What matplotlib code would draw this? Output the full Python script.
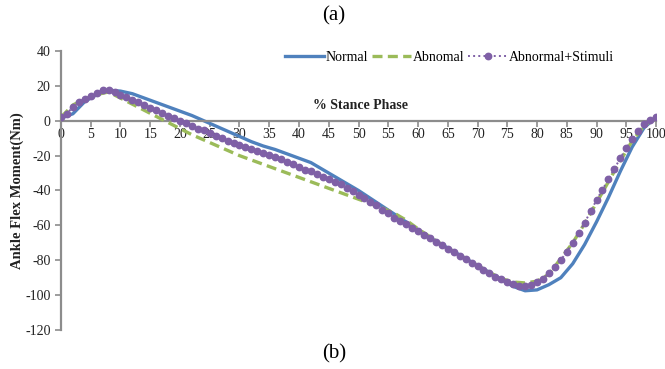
import numpy as np
import matplotlib
matplotlib.use("Agg")
import matplotlib.pyplot as plt

plt.rcParams["font.family"] = ["Liberation Serif", "DejaVu Serif"]
plt.rcParams["axes.unicode_minus"] = False

# ---- data (% stance phase vs ankle moment, Nm) ----
x_2 = np.arange(0, 101, 2)
normal = [1.5, 4, 11, 15, 17.5, 17, 15.5, 13, 10.5, 8, 5.5, 3, 0, -3, -6, -9,
          -12, -14.5, -16.5, -19, -21.5, -24, -28, -32, -36, -40, -44.5, -49,
          -53.5, -58, -62.5, -67, -71, -75, -79, -83, -87, -91, -95, -97.5,
          -97, -94, -90, -82, -71, -58, -44, -29, -15, -4, 2]
abnormal = [2, 9, 12.5, 15, 16.5, 13, 9.5, 6, 2.5, -1, -4.5, -8, -11, -14, -17,
            -20, -22.5, -25, -27.5, -30, -32.5, -35, -37.5, -40, -42.5, -45,
            -47.5, -50, -53, -57, -62, -66.5, -71, -75, -79, -83, -87, -90.5,
            -92.5, -93, -92, -88, -79, -70, -59, -47, -35, -23, -11.5, -3, 2]
x_1 = np.arange(0, 101, 1)
stimuli = [2, 4, 8, 11, 12.5, 14, 16, 17.5, 17.5, 16.5, 15, 13.5, 12, 10.5, 9,
           7.5, 6, 4.5, 3, 1.5, 0, -1.5, -3, -4.5, -5.5, -7, -8.5, -10, -11.5,
           -13, -14, -15, -16, -17.5, -18.5, -19.5, -21, -22, -23.5, -25, -26.5,
           -28, -29, -30.5, -32, -33.5, -35, -36.5, -38.5, -40.5, -42.5, -44.5,
           -46.5, -48.5, -51, -53, -55.5, -57.5, -59.5, -61.5, -63.5, -65.5,
           -67.5, -69.5, -71.5, -73.5, -75.5, -77.5, -79.5, -81.5, -83.5, -85.5,
           -87.5, -89.5, -91, -92.5, -93.5, -94.5, -94.5, -94, -92.5, -90.5,
           -87.5, -84, -80, -75, -70, -64.5, -58.5, -52, -45.5, -39.5, -33.5,
           -27.5, -21.5, -15.5, -10.5, -6, -2, 0.5, 2]
y_ticks = np.arange(-120, 41, 20)
x_ticks = np.arange(0, 101, 5)

fig = plt.figure(figsize=(6.65, 3.69), dpi=100)
ax = fig.add_axes([0.0917, 0.1057, 0.8948, 0.7561])

ax.plot(x_2, normal, color="#4F81BD", lw=2.4, label="Normal", zorder=2)
ax.plot(x_2, abnormal, color="#9BBB59", lw=2.4, ls=(0, (3, 1.6)),
        label="Abnomal", zorder=3)
ax.plot(x_1, stimuli, color="#7F60A6", lw=1.4, ls=":", marker="o", ms=4.6,
        markevery=1, label="Abnormal+Stimuli", zorder=4)

ax.set_xlim(0, 100)
ax.set_ylim(-120, 40)
ax.set_yticks(y_ticks)
ax.set_xticks(x_ticks)

grey = "#8c8c8c"
for s in ["top", "right"]:
    ax.spines[s].set_visible(False)
ax.spines["left"].set_color(grey)
ax.spines["left"].set_linewidth(1.6)
ax.spines["bottom"].set_position(("data", 0))
ax.spines["bottom"].set_color(grey)
ax.spines["bottom"].set_linewidth(1.6)
ax.tick_params(axis="both", colors=grey, labelcolor="#222", labelsize=10,
               length=4, width=1.2)
ax.tick_params(axis="x", pad=1)

ax.set_ylabel("Ankle Flex Moment(Nm)", fontsize=10.5, fontweight="bold",
              color="#222", labelpad=1)
ax.text(50.3, 8.6, "% Stance Phase", fontsize=10, fontweight="bold",
        ha="center", va="center", color="#222")

ax.legend(loc="upper right", bbox_to_anchor=(0.938, 1.02), ncol=3, frameon=False,
          fontsize=10, handlelength=2.8, handletextpad=0.1, columnspacing=0.3,
          borderaxespad=0)

fig.text(0.502, 0.958, "(a)", ha="center", va="center", fontsize=15)
fig.text(0.502, 0.04, "(b)", ha="center", va="center", fontsize=15)

fig.savefig("out.png", dpi=100)
